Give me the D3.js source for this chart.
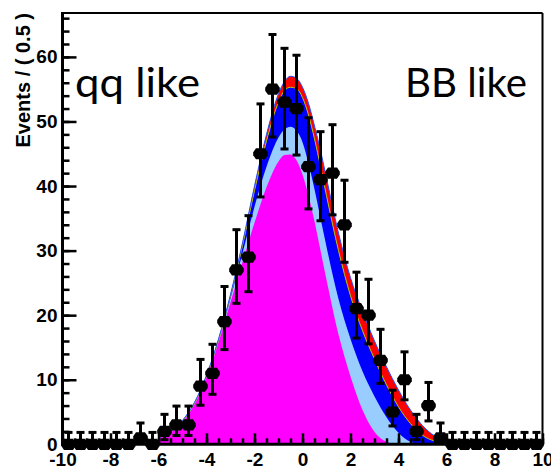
<!DOCTYPE html>
<html>
<head>
<meta charset="utf-8">
<script src="https://cdn.jsdelivr.net/npm/d3@7"></script>
<style>
  body { margin: 0; background: #fff; }
  svg { display: block; }
</style>
</head>
<body>
<script>
var width = 551;
var height = 469;

// data points (bin centres, counts, asymmetric poisson errors)
var binCenters = [-9.75,-9.25,-8.75,-8.25,-7.75,-7.25,-6.75,-6.25,-5.75,-5.25,-4.75,-4.25,-3.75,-3.25,-2.75,-2.25,-1.75,-1.25,-0.75,-0.25,
                  0.25,0.75,1.25,1.75,2.25,2.75,3.25,3.75,4.25,4.75,5.25,5.75,6.25,6.75,7.25,7.75,8.25,8.75,9.25,9.75];
var counts = [0,0,0,0,0,0,1,0,2,3,3,9,11,19,27,29,45,55,53,52,
              43,41,42,34,21,20,13,5,10,2,6,1,0,0,0,0,0,0,0,0];
var errLo = [0,0,0,0,0,0,0.83,0,1.29,1.63,1.63,2.95,3.26,4.33,5.17,5.36,6.69,7.40,7.26,7.20,
             6.54,6.38,6.46,5.81,4.55,4.44,3.56,2.16,3.11,1.29,2.38,0.83,0,0,0,0,0,0,0,0];
var errHi = [1.84,1.84,1.84,1.84,1.84,1.84,2.30,1.84,2.64,2.92,2.92,4.15,4.49,5.44,6.24,6.41,7.72,8.47,8.33,8.26,
             7.58,7.42,7.50,6.90,5.66,5.56,4.81,3.38,4.32,2.64,3.58,2.30,1.84,1.84,1.84,1.84,1.84,1.84,1.84,1.84];

// stacked model curves (cumulative levels)
var curveX      = [-6,-5.5,-5,-4.5,-4,-3.5,-3,-2.5,-2,-1.5,-1,-0.75,-0.5,-0.25,0,0.25,0.5,0.75,1,1.5,2,2.5,3,3.5,4,4.5,5,5.5,6,6.25];
var redLevel    = [1.0,2.0,3.7,6.5,10.7,16.3,23.2,31.2,40,48,54.3,56.2,57,56.7,55.3,52.8,49.3,45.5,41.2,32.7,25.8,20.6,16,12,8.4,5.3,2.9,1.3,0.4,0.1];
var blueLevel   = [1.0,2.0,3.6,6.4,10.6,16.1,23,30.8,39.3,47,53,54.8,55.3,55.1,53.7,51,47.3,43,38.5,30,23,17.6,13.2,9.2,5.8,3.2,1.4,0.5,0.1,0];
var ltBlueLevel = [0.9,1.9,3.5,6.3,10.5,16,22.6,29.6,36.8,43,47.5,48.8,49.2,48.6,46.8,43.5,39.5,35,30.6,22.5,16.3,11.3,7.4,4.2,1.8,0.4,0,0,0,0];
var magentaLevel= [0.9,1.8,3.4,6.2,10.4,15.8,22,28.2,34.3,39.8,43.8,44.8,44.9,44,41.8,38.5,34.5,30,25.5,17,10.5,5.3,1.9,0.4,0,0,0,0,0,0];

var xTicks = [-10,-8,-6,-4,-2,0,2,4,6,8,10];
var yTicks = [0,10,20,30,40,50,60];

var svg = d3.select("body").append("svg")
            .attr("width", width)
            .attr("height", height);

var x = d3.scaleLinear().domain([-10, 10]).range([62.5, 542.5]);
var y = d3.scaleLinear().domain([0, 66.8]).range([444.3, 13]);

function levelArea(level) {
    return d3.area()
             .x(function(d, i) { return x(curveX[i]); })
             .y0(y(0))
             .y1(function(d) { return y(d); })
             .curve(d3.curveMonotoneX)(level);
}
function levelLine(level) {
    return d3.line()
             .x(function(d, i) { return x(curveX[i]); })
             .y(function(d) { return y(d); })
             .curve(d3.curveMonotoneX)(level);
}

var fills = [[redLevel, "#ff0000"], [blueLevel, "#0000ff"], [ltBlueLevel, "#99ccff"], [magentaLevel, "#ff00ff"]];
svg.append("g").selectAll("path")
   .data(fills)
   .enter().append("path")
   .attr("d", function(d) { return levelArea(d[0]); })
   .attr("fill", function(d) { return d[1]; });

svg.append("path").attr("d", levelLine(blueLevel))
   .attr("fill", "none").attr("stroke", "#b8c800").attr("stroke-width", 1);
svg.append("path").attr("d", levelLine(redLevel))
   .attr("fill", "none").attr("stroke", "#2050ff").attr("stroke-width", 1);

// frame
svg.append("line").attr("x1", x(-10)).attr("x2", x(10)).attr("y1", y.range()[1]).attr("y2", y.range()[1])
   .attr("stroke", "#000").attr("stroke-width", 2);
svg.append("line").attr("x1", x(10)).attr("x2", x(10)).attr("y1", y.range()[1]).attr("y2", y(0))
   .attr("stroke", "#000").attr("stroke-width", 2);

function plain(d) { return String(d); }

// axes
var yMinor = d3.axisLeft(y).tickValues(d3.range(0, 67, 2)).tickSize(-7).tickFormat("");
svg.append("g").attr("transform", "translate(" + x(-10) + ",0)").call(yMinor)
   .call(function(g) { g.select(".domain").remove(); g.selectAll("line").attr("stroke-width", 2.5); });

var yAxis = d3.axisLeft(y).tickValues(yTicks).tickSize(-14).tickPadding(5).tickFormat(plain);
svg.append("g").attr("transform", "translate(" + x(-10) + ",0)").call(yAxis)
   .call(function(g) {
       g.select(".domain").remove();
       g.selectAll("line").attr("stroke-width", 2.5);
       g.selectAll("text").attr("font-family", "Liberation Sans, Arial, sans-serif")
        .attr("font-weight", "bold").attr("font-size", 19).attr("fill", "#000");
   });

var xMinor = d3.axisBottom(x).tickValues(d3.range(-10, 10.01, 0.5)).tickSize(-6).tickFormat("");
svg.append("g").attr("transform", "translate(0," + y(0) + ")").call(xMinor)
   .call(function(g) { g.select(".domain").remove(); g.selectAll("line").attr("stroke-width", 2.5); });

var xAxis = d3.axisBottom(x).tickValues(xTicks).tickSize(-11).tickPadding(8).tickFormat(plain);
svg.append("g").attr("transform", "translate(0," + y(0) + ")").call(xAxis)
   .call(function(g) {
       g.select(".domain").remove();
       g.selectAll("line").attr("stroke-width", 2.5);
       g.selectAll("text").attr("font-family", "Liberation Sans, Arial, sans-serif")
        .attr("font-weight", "bold").attr("font-size", 19).attr("fill", "#000");
   });

svg.append("line").attr("x1", x(-10)).attr("x2", x(-10)).attr("y1", y.range()[1] - 1).attr("y2", y(0) + 1.5)
   .attr("stroke", "#000").attr("stroke-width", 3);
svg.append("line").attr("x1", x(-10) - 1.5).attr("x2", x(10) + 1).attr("y1", y(0)).attr("y2", y(0))
   .attr("stroke", "#000").attr("stroke-width", 3);

// y title
svg.append("text")
   .attr("transform", "translate(30,13) rotate(-90)")
   .attr("text-anchor", "end")
   .attr("font-family", "Liberation Sans, Arial, sans-serif")
   .attr("font-weight", "bold")
   .attr("font-size", 20)
   .text("Events / ( 0.5 )");

// data points
var pts = svg.append("g").selectAll("g")
   .data(counts)
   .enter().append("g");

pts.append("line")
   .attr("x1", function(d, i) { return x(binCenters[i]); })
   .attr("x2", function(d, i) { return x(binCenters[i]); })
   .attr("y1", function(d, i) { return y(d - errLo[i]); })
   .attr("y2", function(d, i) { return y(d + errHi[i]); })
   .attr("stroke", "#000").attr("stroke-width", 3);
pts.append("line")
   .attr("x1", function(d, i) { return x(binCenters[i]) - 4; })
   .attr("x2", function(d, i) { return x(binCenters[i]) + 4; })
   .attr("y1", function(d, i) { return y(d + errHi[i]); })
   .attr("y2", function(d, i) { return y(d + errHi[i]); })
   .attr("stroke", "#000").attr("stroke-width", 3);
pts.append("line")
   .attr("x1", function(d, i) { return x(binCenters[i]) - 4; })
   .attr("x2", function(d, i) { return x(binCenters[i]) + 4; })
   .attr("y1", function(d, i) { return y(d - errLo[i]); })
   .attr("y2", function(d, i) { return y(d - errLo[i]); })
   .attr("stroke", function(d, i) { return errLo[i] > 0 ? "#000" : "none"; })
   .attr("stroke-width", 3);
pts.append("path")
   .attr("d", "M-7.3,-1.5L-4.5,-5.6L4.5,-5.6L7.3,-1.5L7.3,1.5L4.5,5.6L-4.5,5.6L-7.3,1.5Z")
   .attr("transform", function(d, i) { return "translate(" + x(binCenters[i]) + "," + y(d) + ")"; })
   .attr("fill", "#000");

// labels
svg.append("text").attr("x", 75).attr("y", 97)
   .attr("font-family", "Lato, Open Sans, sans-serif").attr("font-size", 40)
   .attr("textLength", 125).attr("lengthAdjust", "spacingAndGlyphs")
   .text("qq like");
svg.append("text").attr("x", 405).attr("y", 97)
   .attr("font-family", "Lato, Open Sans, sans-serif").attr("font-size", 40)
   .attr("textLength", 122).attr("lengthAdjust", "spacingAndGlyphs")
   .text("BB like");
</script>
</body>
</html>
